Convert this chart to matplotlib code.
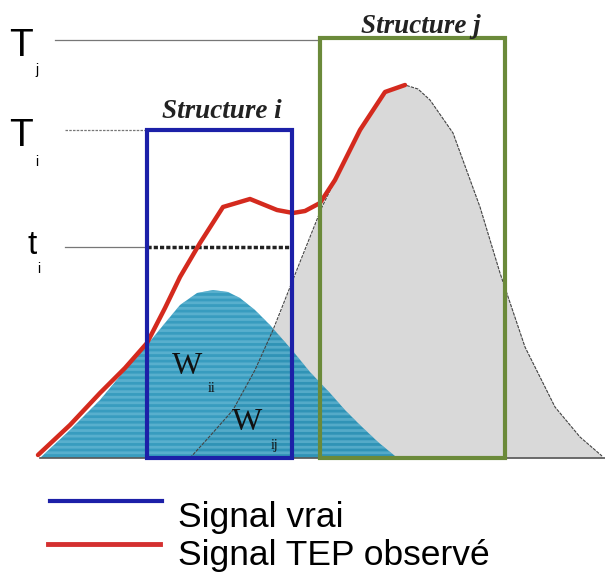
import matplotlib
matplotlib.use("Agg")
import matplotlib.pyplot as plt
from matplotlib.patches import Rectangle

plt.rcParams['hatch.linewidth'] = 2.0

# Data (x in pixel-like units, y = signal intensity above baseline)
true_i_x = [40, 70, 100, 125, 147, 165, 180, 197, 213, 228, 240, 255, 270, 292, 310, 330, 345, 360, 378, 395]
true_i_y = [0, 28, 58, 88, 113, 135, 153, 165, 168, 166, 160, 148, 133, 108, 86, 65, 48, 33, 16, 2]

true_j_x = [190, 210, 233, 255, 273, 300, 322, 350, 368, 383, 395, 405, 418, 430, 453, 480, 500, 525, 555, 580, 602]
true_j_y = [0, 22, 48, 88, 128, 196, 251, 308, 340, 363, 370, 373, 369, 358, 325, 251, 185, 111, 51, 21, 2]

obs_x = [38, 70, 100, 125, 147, 165, 180, 200, 223, 250, 277, 293, 305, 320, 335, 360, 385, 405]
obs_y = [3, 33, 65, 90, 115, 150, 181, 215, 251, 259, 248, 245, 247, 255, 278, 328, 366, 373]

levels = {"Tj": 418, "Ti": 328, "ti": 211}
struct_i = (147, 292)   # x-range of structure i
struct_j = (320, 505)   # x-range of structure j

fig = plt.figure(figsize=(6.05, 5.76), dpi=100)
ax = fig.add_axes([0, 0, 1, 1])
ax.set_xlim(0, 605)
ax.set_ylim(-118, 458)
ax.axis('off')

# grey structure j signal
ax.fill_between(true_j_x, 0, true_j_y, color='#d9d9d9', lw=0, zorder=1)
ax.plot(true_j_x, true_j_y, color='#444444', lw=0.8, ls=(0, (3, 1)), zorder=3)

# teal structure i signal with horizontal stripes
ax.fill_between(true_i_x, 0, true_i_y, facecolor=(0.0, 0.50, 0.68, 0.78),
                edgecolor=(0.50, 0.78, 0.88, 0.45), hatch='---', lw=0, zorder=2)

# baseline
ax.plot([40, 605], [0, 0], color='#555555', lw=1.2, zorder=2)

# reference levels
ax.plot([55, struct_j[0]], [levels["Tj"]] * 2, color='#777777', lw=0.9, zorder=1)
ax.plot([65, struct_i[0]], [levels["Ti"]] * 2, color='#777777', lw=0.9, ls=(0, (2, 1)), zorder=1)
ax.plot([65, struct_i[0]], [levels["ti"]] * 2, color='#777777', lw=0.9, zorder=1)
ax.plot([struct_i[0], struct_i[1]], [levels["ti"]] * 2, color='#222222', lw=2.5,
        ls=(0, (1.2, 0.6)), zorder=4)

# observed signal
ax.plot(obs_x, obs_y, color='#d42a1e', lw=3.2, solid_capstyle='round', zorder=5)

# structure boxes
ax.add_patch(Rectangle((struct_i[0], 0), struct_i[1] - struct_i[0], levels["Ti"],
                       fill=False, edgecolor='#1c20a8', lw=3, zorder=6))
ax.add_patch(Rectangle((struct_j[0], 0), struct_j[1] - struct_j[0], 420,
                       fill=False, edgecolor='#6b8a3a', lw=3, zorder=6))

serif = 'Liberation Serif'
sans = 'Liberation Sans'
ax.text(222, 340, 'Structure i', family=serif, style='italic', weight='bold',
        fontsize=19.5, ha='center', va='baseline', color='#222222', zorder=7)
ax.text(421, 425, 'Structure j', family=serif, style='italic', weight='bold',
        fontsize=19.5, ha='center', va='baseline', color='#222222', zorder=7)

# level labels
ax.text(9, levels["Tj"] - 6, 'T', family=sans, fontsize=28, va='center', ha='left')
ax.text(35, levels["Tj"] - 30, 'j', family=sans, fontsize=10, va='center', ha='left')
ax.text(9, levels["Ti"] - 6, 'T', family=sans, fontsize=28, va='center', ha='left')
ax.text(35, levels["Ti"] - 32, 'i', family=sans, fontsize=10, va='center', ha='left')
ax.text(27, levels["ti"] + 2, 't', family=sans, fontsize=24, va='center', ha='left')
ax.text(37, levels["ti"] - 22, 'i', family=sans, fontsize=10, va='center', ha='left')

# W labels
ax.text(172, 92, 'W', family=serif, fontsize=23, va='center', ha='left', color='#111111', zorder=7)
ax.text(208, 70, 'ii', family=serif, fontsize=10, va='center', ha='left', color='#111111', zorder=7)
ax.text(232, 36, 'W', family=serif, fontsize=23, va='center', ha='left', color='#111111', zorder=7)
ax.text(271, 12, 'ij', family=serif, fontsize=10, va='center', ha='left', color='#111111', zorder=7)

# legend
ax.plot([50, 162], [-43, -43], color='#1c20a8', lw=3)
ax.plot([48, 160], [-86, -86], color='#d43030', lw=3.5)
ax.text(178, -69, 'Signal vrai', family=sans, fontsize=25.5, va='baseline', ha='left')
ax.text(178, -107, 'Signal TEP observé', family=sans, fontsize=25.5, va='baseline', ha='left')

fig.savefig('out.png', dpi=100)
